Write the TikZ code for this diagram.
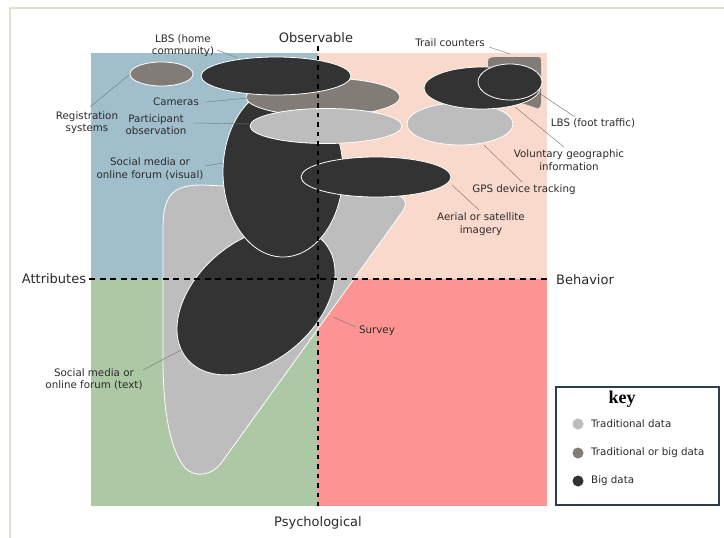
\documentclass[tikz,border=0pt]{standalone}
\usepackage{fontspec}
\setmainfont{DejaVu Sans}
\newfontfamily\keyfont{Liberation Serif}
\usetikzlibrary{shapes.geometric}
\definecolor{qblue}{HTML}{A0BFCB}
\definecolor{qpeach}{HTML}{F9D9CC}
\definecolor{qgreen}{HTML}{ADC8A5}
\definecolor{qred}{HTML}{FD9494}
\definecolor{clight}{HTML}{BDBDBD}
\definecolor{cmid}{HTML}{827C76}
\definecolor{cdark}{HTML}{333333}
\definecolor{txt}{HTML}{2A2A2A}
\definecolor{leadc}{HTML}{7A7A7A}
\definecolor{framec}{HTML}{DCE2D2}
\definecolor{keyc}{HTML}{2F3E4B}
\tikzset{
  blob/.style={ellipse, draw=white, line width=0.8pt, inner sep=0pt},
  lbl/.style={font=\fontsize{10.3}{12.5}\selectfont, text=txt, align=center, inner sep=0pt},
  axis/.style={font=\fontsize{13}{15}\selectfont, text=txt, inner sep=0pt},
  leader/.style={draw=leadc, line width=0.45pt},
  hdash/.style={line width=2.6pt, dash pattern=on 6pt off 4.5pt},
  vdash/.style={line width=2.6pt, dash pattern=on 4.5pt off 5pt},
  keydot/.style={circle, inner sep=0pt, minimum size=11pt},
  keytxt/.style={font=\fontsize{10.3}{12}\selectfont, text=txt, anchor=west, inner sep=0pt}
}
\begin{document}
\begin{tikzpicture}[x=1pt,y=-1pt]
\useasboundingbox (0,0) rectangle (724,538);
% frame
\draw[framec, line width=2pt] (10,540) -- (10,8) -- (726,8);
% quadrants
\fill[qblue] (91,53) rectangle (318,279);
\fill[qpeach] (318,53) rectangle (547,279);
\fill[qgreen] (91,279) rectangle (318,506);
\fill[qred] (318,279) rectangle (547,506);
% survey blob
\path[fill=clight, draw=white, line width=0.8pt]
  (163,228) .. controls (163,196) and (172,185) .. (202,185)
  -- (385,193) .. controls (405,194) and (411,202) .. (400,215)
  -- (222,462) .. controls (212,476) and (195,478) .. (185,468)
  .. controls (170,450) and (163,410) .. (163,360) -- cycle;
% shapes
\node[blob, fill=cdark, minimum width=180pt, minimum height=120pt, rotate=40] (smtext) at (256,301) {};
\node[blob, fill=cdark, minimum width=120pt, minimum height=170pt] (smvis) at (283,172) {};
\node[blob, fill=cmid, minimum width=154pt, minimum height=38pt] (cameras) at (323,97) {};
\node[blob, fill=clight, minimum width=152pt, minimum height=35pt] (partobs) at (326,126) {};
\node[blob, fill=cdark, minimum width=150pt, minimum height=38pt] (lbshome) at (276,76) {};
\node[blob, fill=cdark, minimum width=150pt, minimum height=40pt] (aerial) at (376,177) {};
\node[blob, fill=cmid, minimum width=63pt, minimum height=24pt] (regsys) at (161.5,74) {};
\path[fill=cmid]
  (488,95) -- (488,65) .. controls (488,58) .. (495,57) -- (535,57)
  .. controls (541,57) .. (541,63) -- (541,102)
  .. controls (541,108) and (538,110) .. (534,107) -- (500,96) -- cycle;
\node[blob, fill=clight, minimum width=106pt, minimum height=42pt] (gps) at (460,124) {};
\node[blob, fill=cdark, minimum width=116pt, minimum height=42pt] (vgi) at (482,88) {};
\node[blob, fill=cdark, minimum width=64pt, minimum height=36pt] (lbsfoot) at (510,82) {};
% dashed axes
\draw[hdash] (89,279) -- (547,279);
\draw[vdash] (318,46) -- (318,506);
% axis labels
\node[axis] (obs) at (316,38) {Observable};
\node[axis] (psy) at (318,523) {Psychological};
\node[axis] (attr) at (54,279) {Attributes};
\node[axis] (beh) at (585,280) {Behavior};
% labels
\node[lbl] (tlbshome) at (183,45.5) {LBS (home\\community)};
\node[lbl] (tregsys) at (87,122.5) {Registration\\systems};
\node[lbl] (tcam) at (176,102) {Cameras};
\node[lbl] (tpart) at (156,124.5) {Participant\\observation};
\node[lbl] (tsmvis) at (150,169) {Social media or\\online forum (visual)};
\node[lbl] (ttrail) at (450,43) {Trail counters};
\node[lbl] (tlbsfoot) at (593,123) {LBS (foot traffic)};
\node[lbl] (tvgi) at (569,160) {Voluntary geographic\\information};
\node[lbl] (tgps) at (524,190) {GPS device tracking};
\node[lbl] (taerial) at (481,224) {Aerial or satellite\\imagery};
\node[lbl] (tsurvey) at (377,331) {Survey};
\node[lbl] (tsmtext) at (94,379.5) {Social media or\\online forum (text)};
% leader ends
\coordinate (a1) at (217,50); \coordinate (b1) at (238,58);
\coordinate (a2) at (90,107); \coordinate (b2) at (129,75);
\coordinate (a3) at (206,102); \coordinate (b3) at (248,98);
\coordinate (a4) at (194,123); \coordinate (b4) at (250,124);
\coordinate (a5) at (205,166); \coordinate (b5) at (223,163);
\coordinate (a6) at (489,47); \coordinate (b6) at (510,54);
\coordinate (a7) at (575,117); \coordinate (b7) at (539,93);
\coordinate (a8) at (564,147); \coordinate (b8) at (515,107);
\coordinate (a9) at (522,182); \coordinate (b9) at (484,145);
\coordinate (a10) at (479,210); \coordinate (b10) at (452,185);
\coordinate (a11) at (356,327); \coordinate (b11) at (333,317);
\coordinate (a12) at (143,370); \coordinate (b12) at (183,349);
\foreach \i in {1,...,12} {\draw[leader] (a\i) -- (b\i);}
% key
\draw[keyc, line width=1.5pt, fill=white] (556,387) rectangle (719,505);
\node[font=\keyfont\bfseries\fontsize{18}{20}\selectfont, inner sep=0pt] (keyttl) at (622,399) {key};
\node[keydot, fill=clight] (k1) at (578,424) {};
\node[keydot, fill=cmid] (k2) at (578,453) {};
\node[keydot, fill=cdark] (k3) at (578,481) {};
\node[keytxt] (kt1) at (591,424) {Traditional data};
\node[keytxt] (kt2) at (591,453) {Traditional or big data};
\node[keytxt] (kt3) at (591,481) {Big data};
\end{tikzpicture}
\end{document}
